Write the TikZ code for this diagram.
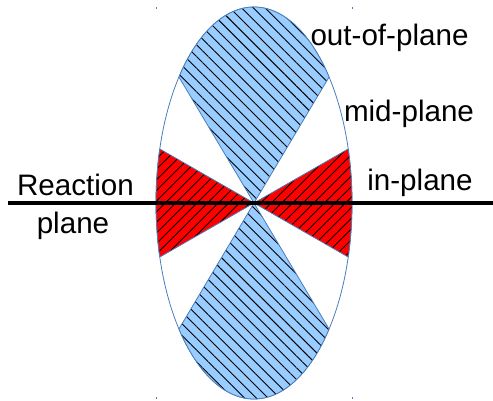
\documentclass[tikz,border=0pt]{standalone}
\usepackage{fontspec}
\setmainfont{Liberation Sans}
\usetikzlibrary{patterns.meta}
\definecolor{edgeblue}{HTML}{4A7EBB}
\definecolor{fillblue}{HTML}{99CCFF}
\definecolor{fillred}{HTML}{FF0000}
\begin{document}
\begin{tikzpicture}[x=1pt,y=1pt,
  lbl/.style={font=\fontsize{29.6}{34}\selectfont, inner sep=0pt, anchor=base},
  outsec/.style={draw=edgeblue, line width=0.8pt, line join=round,
     preaction={fill=fillblue},
     pattern={Lines[angle=-45, distance=8.3pt, line width=0.9pt]}, pattern color=black},
  insec/.style={draw=edgeblue, line width=0.8pt, line join=round,
     preaction={fill=fillred},
     pattern={Lines[angle=45, distance=7.5pt, line width=0.9pt]}, pattern color=black},
  tick/.style={draw=edgeblue, line width=0.6pt}]
\useasboundingbox (-254,-197) rectangle (239,203);
\coordinate (c) at (0,0);
% ellipse outline
\draw[edgeblue, line width=0.8pt] (c) ellipse[x radius=98, y radius=196];
% out-of-plane sectors
\path[outsec] (c) -- ({98*cos(40)},{196*sin(40)}) arc[start angle=40, end angle=140, x radius=98, y radius=196] -- cycle;
\path[outsec] (c) -- ({98*cos(220)},{196*sin(220)}) arc[start angle=220, end angle=320, x radius=98, y radius=196] -- cycle;
% in-plane sectors
\path[insec] (c) -- ({98*cos(164)},{196*sin(164)}) arc[start angle=164, end angle=196, x radius=98, y radius=196] -- cycle;
\path[insec] (c) -- ({98*cos(-16)},{196*sin(-16)}) arc[start angle=-16, end angle=16, x radius=98, y radius=196] -- cycle;
% corner ticks of the ellipse box
\draw[tick] (-98,196) -- (-98,194);
\draw[tick] (98,196) -- (98,194);
\draw[tick] (-98,-196) -- (-98,-194);
\draw[tick] (98,-196) -- (98,-194);
% reaction plane line
\coordinate (l0) at (-246,0);
\coordinate (l1) at (239,0);
\draw[black, line width=4pt] (l0) -- (l1);
% labels
\node[lbl] (oop) at (135.5,158) {out-of-plane};
\node[lbl] (mid) at (155,82) {mid-plane};
\node[lbl] (inp) at (166,13) {in-plane};
\node[lbl] (rea) at (-178.5,8) {Reaction};
\node[lbl] (pla) at (-181,-30) {plane};
\end{tikzpicture}
\end{document}
